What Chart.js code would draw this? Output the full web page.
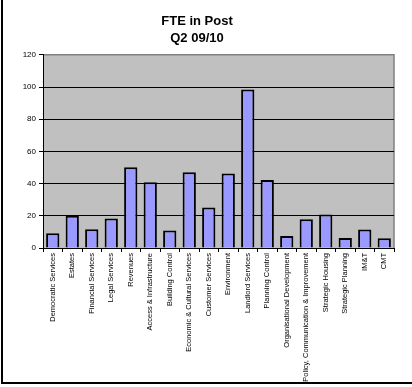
<!DOCTYPE html>
<html>
<head>
<meta charset="utf-8">
<script src="https://cdn.jsdelivr.net/npm/chart.js@4/dist/chart.umd.min.js"></script>
<style>
    html, body { margin: 0; padding: 0; background: #fff; overflow: hidden; }
    #wrap { position: relative; width: 412px; height: 387px; overflow: hidden; }
    #frame {
        position: absolute; left: 1px; top: -10px; width: 520px; height: 394px;
        border: 2px solid #000; box-sizing: border-box; pointer-events: none;
    }
    canvas { position: absolute; left: 0; top: 0; }
</style>
</head>
<body>
<div id="wrap">
    <canvas id="fteChart" width="412" height="387"></canvas>
    <div id="frame"></div>
</div>
<script>
// ---------------------------------------------------------
// DATA
// ---------------------------------------------------------
const services = [
    'Democratic Services', 'Estates', 'Financial Services', 'Legal Services',
    'Revenues', 'Access & Infrastructure', 'Building Control',
    'Economic & Cultural Services', 'Customer Services', 'Environment',
    'Landlord Services', 'Planning Control', 'Organisational Development',
    'Policy, Communication & Improvement', 'Strategic Housing',
    'Strategic Planning', 'IM&T', 'CMT'
];
const fteInPost = [9.2, 20, 11.7, 18.3, 50.2, 40.8, 10.8, 47, 25.2, 46.2, 98.5, 42.3, 7.5, 17.9, 20.8, 6.2, 11.5, 6];
const yTicks = [0, 20, 40, 60, 80, 100, 120];

const FONT = "'Liberation Sans', Arial, sans-serif";

// grey plot area with a grey frame on top and right (Excel style)
const plotArea = {
    id: 'plotArea',
    beforeDraw(chart) {
        const { ctx, chartArea: a } = chart;
        ctx.save();
        ctx.fillStyle = '#c0c0c0';
        ctx.fillRect(a.left, a.top, a.right - a.left, a.bottom - a.top);
        ctx.strokeStyle = '#808080';
        ctx.lineWidth = 1.5;
        ctx.beginPath();
        ctx.moveTo(a.left, a.top);
        ctx.lineTo(a.right, a.top);
        ctx.lineTo(a.right, a.bottom);
        ctx.stroke();
        ctx.restore();
    }
};

new Chart(document.getElementById('fteChart'), {
    type: 'bar',
    data: {
        labels: services,
        datasets: [{
            label: 'FTE in Post',
            data: fteInPost,
            backgroundColor: '#9999ff',
            borderColor: '#000',
            borderWidth: 2,
            barPercentage: 0.68,
            categoryPercentage: 1
        }]
    },
    options: {
        responsive: false,
        animation: false,
        layout: { padding: { left: 0, right: 18, top: 0, bottom: 0 } },
        plugins: {
            legend: { display: false },
            tooltip: { enabled: false },
            title: {
                display: true,
                text: ['FTE in Post', 'Q2 09/10'],
                color: '#000',
                font: { family: FONT, size: 13, weight: 'bold', lineHeight: 1.3 },
                padding: { top: 13, bottom: 8 }
            }
        },
        scales: {
            x: {
                grid: { drawOnChartArea: false, drawTicks: true, tickLength: 4, offset: true, color: '#000', tickColor: '#000' },
                border: { color: '#000', width: 1 },
                ticks: {
                    autoSkip: false, maxRotation: 90, minRotation: 90, padding: 1,
                    color: '#000', font: { family: FONT, size: 7.5 }
                },
                afterFit: (scale) => { scale.height = 139; }
            },
            y: {
                min: 0,
                max: 120,
                afterBuildTicks: (scale) => { scale.ticks = yTicks.map(v => ({ value: v })); },
                grid: {
                    color: (c) => c.tick && c.tick.value === 120 ? 'rgba(0,0,0,0)' : '#000',
                    tickColor: '#000', tickLength: 4, lineWidth: 1
                },
                border: { color: '#000', width: 1 },
                ticks: { padding: 3, color: '#000', font: { family: FONT, size: 8 } },
                afterFit: (scale) => { scale.width = 43; }
            }
        }
    },
    plugins: [plotArea]
});
</script>
</body>
</html>
